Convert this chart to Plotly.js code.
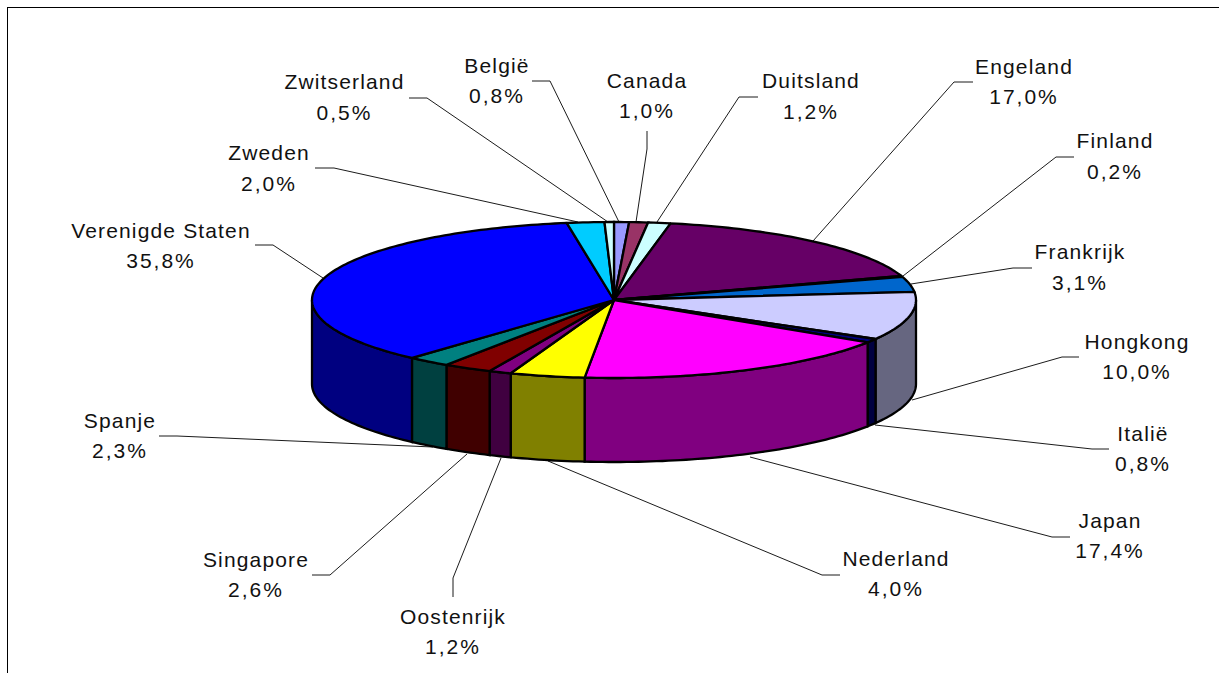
<!DOCTYPE html>
<html>
<head>
<meta charset="utf-8">
<script src="https://cdn.plot.ly/plotly-3.0.1.min.js"></script>
<style>
html,body{margin:0;padding:0;background:#fff;overflow:hidden}
#chart svg text{letter-spacing:1.15px}
#chart svg .scatterlayer .trace:last-child text{letter-spacing:2px}
</style>
</head>
<body>
<div id="chart" style="width:1219px;height:673px"></div>
<script>
// --- data, clockwise from the top of the pie ---
const countries = ["België","Canada","Duitsland","Engeland","Finland","Frankrijk","Hongkong","Italië","Japan","Nederland","Oostenrijk","Singapore","Spanje","Verenigde Staten","Zweden","Zwitserland"];
const shares = [0.8,1.0,1.2,17.0,0.2,3.1,10.0,0.8,17.4,4.0,1.2,2.6,2.3,35.8,2.0,0.5];
const topColors = ["#9999FF","#993366","#CCFFFF","#660066","#FF8080","#0066CC","#CCCCFF","#000080","#FF00FF","#FFFF00","#800080","#800000","#008080","#0000FF","#00CCFF","#CCFFFF"];
const wallColors = ["#4C4C80","#4C1933","#668080","#330033","#804040","#003366","#666680","#000040","#800080","#808000","#400040","#400000","#004040","#000080","#006680","#668080"];

// --- label placement (centre x, name y, percentage y) ---
const labelX = [497,647,811,1024,1115,1080,1137,1143,1110,896,453,256,120,161,269,344.5];
const nameY = [67.5,82.5,82.5,68.5,142.5,253.5,343.5,435.5,522.5,560.5,618.5,561.5,422.5,232.5,154.5,83.5];
const pctY = [97.5,112.5,113.5,98.5,173.5,284.5,373.5,465.5,552.5,590.5,648.5,591.5,452.5,262.5,185.5,114.5];

// --- leader lines, label end to pie end ---
const leaderX = [[532,550,619],[647,647,636],[758,739,657],[973,954,813],[1074,1056,903],[1032,1013,911],[1079,1062,912],[1109,1092,875],[1070,1052,750],[840,822,548],[453,453,501],[312,330,467],[159,177,433],[255,273,323],[315,334,578],[409,427,608]];
const leaderY = [[81,81,222],[131,149,222],[97,97,222],[82,82,241],[157,157,276],[268,268,284],[357,357,400],[449,449,425],[537,537,457],[575,575,461],[597,578,458],[575,575,454],[436,436,447],[245,245,278],[168,168,222],[98,98,222]];

// --- pie geometry ---
const cx = 614, cy = 300, rx = 302, ry = 78, depth = 84;

const total = shares.reduce((a, b) => a + b, 0);
const rim = (t, dy) => [cx + rx * Math.sin(t), cy - ry * Math.cos(t) + dy];
function arc(a, b, dy) {
  const n = Math.max(2, Math.ceil((b - a) / 0.02));
  const pts = [];
  for (let i = 0; i <= n; i++) pts.push(rim(a + (b - a) * i / n, dy));
  return pts;
}
const traces = [];
function poly(pts, fill) {
  traces.push({
    type: "scatter", mode: "lines", x: pts.map(p => p[0]), y: pts.map(p => p[1]),
    fill: "toself", fillcolor: fill, line: {color: "#000", width: 2.3, simplify: false},
    hoverinfo: "skip", showlegend: false
  });
}
let run = 0;
const edges = shares.map(v => { const a = run; run += v; return [a / total * 2 * Math.PI, run / total * 2 * Math.PI]; });

// walls of the front half
edges.forEach((e, i) => {
  const a = Math.max(e[0], Math.PI / 2), b = Math.min(e[1], 3 * Math.PI / 2);
  if (b <= a) return;
  poly(arc(a, b, 0).concat(arc(a, b, depth).reverse()).concat([rim(a, 0)]), wallColors[i]);
});
// top faces
edges.forEach((e, i) => {
  poly([[cx, cy]].concat(arc(e[0], e[1], 0)).concat([[cx, cy]]), topColors[i]);
});
// leader lines
leaderX.forEach((xs, i) => {
  traces.push({type: "scatter", mode: "lines", x: xs, y: leaderY[i], line: {color: "#000", width: 0.9},
    hoverinfo: "skip", showlegend: false});
});
// labels
const font = {family: "Liberation Sans", size: 21, color: "#111"};
traces.push({type: "scatter", mode: "text", x: labelX, y: nameY, text: countries,
  textposition: "middle center", textfont: font, hoverinfo: "skip", showlegend: false, cliponaxis: false});
traces.push({type: "scatter", mode: "text", x: labelX, y: pctY,
  text: shares.map(v => v.toFixed(1).replace(".", ",") + "%"),
  textposition: "middle center", textfont: font, hoverinfo: "skip", showlegend: false, cliponaxis: false});

const layout = {
  width: 1219, height: 673,
  margin: {l: 8, r: 0, t: 8, b: 0, pad: 0},
  paper_bgcolor: "#fff", plot_bgcolor: "#fff",
  showlegend: false, hovermode: false,
  xaxis: {range: [8, 1219], side: "top", showline: true, linecolor: "#000", linewidth: 1.5, mirror: false,
    showgrid: false, zeroline: false, ticks: "", showticklabels: false, fixedrange: true},
  yaxis: {range: [673, 8], showline: true, linecolor: "#000", linewidth: 1.5, mirror: false,
    showgrid: false, zeroline: false, ticks: "", showticklabels: false, fixedrange: true}
};
Plotly.newPlot("chart", traces, layout, {displayModeBar: false, staticPlot: true});
</script>
</body>
</html>
